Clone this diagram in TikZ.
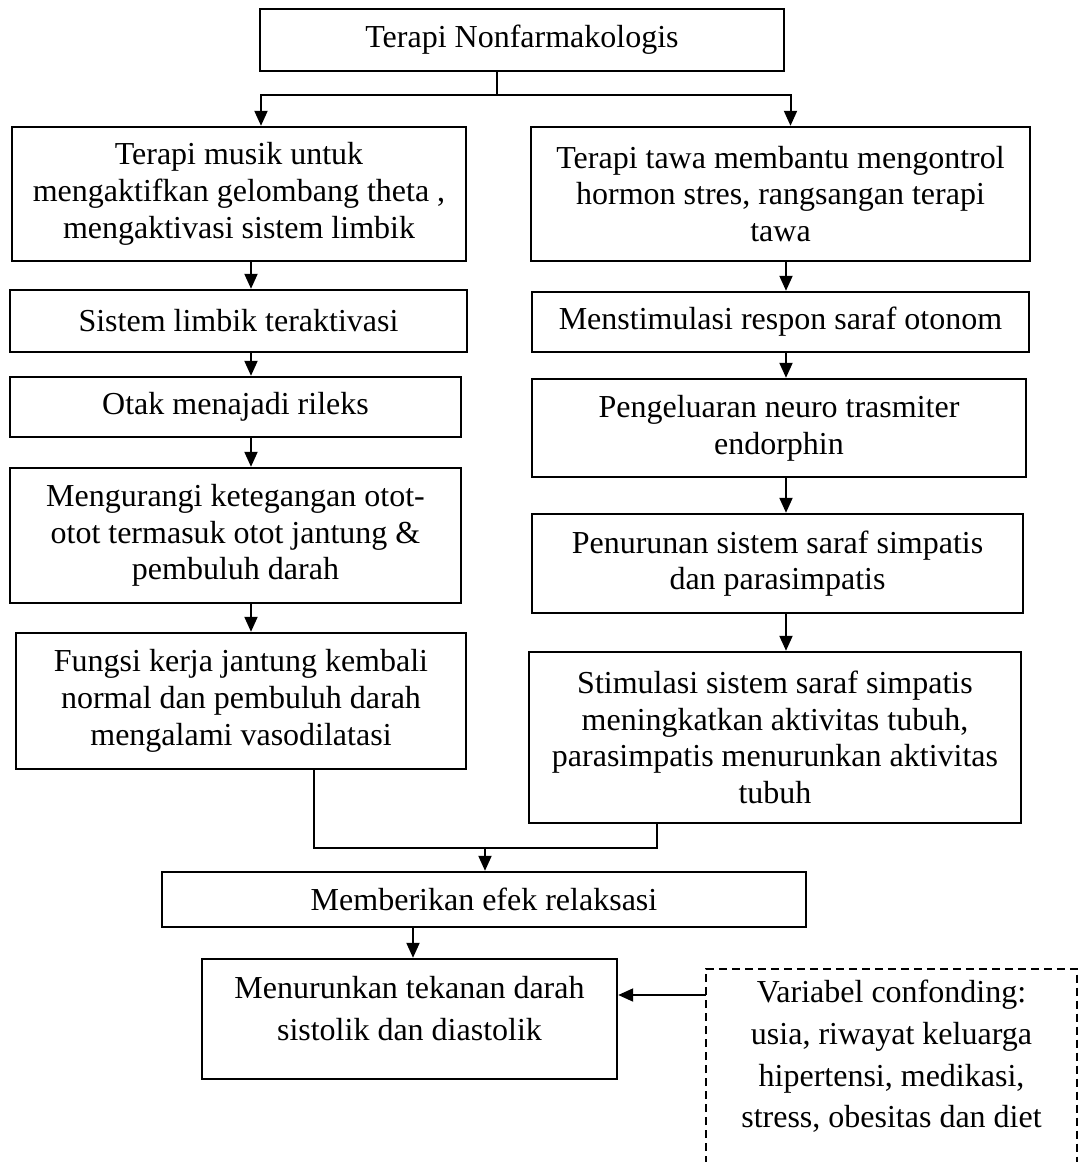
\documentclass[tikz,border=0pt]{standalone}
\usepackage{fontspec}
\setmainfont{Liberation Serif}
\usetikzlibrary{arrows.meta}

\begin{document}
\begin{tikzpicture}[x=1pt, y=-1pt,
  kotak/.style={draw, line width=2.4pt, align=center, inner sep=0pt, font=\fontsize{32}{36.7}\selectfont},
  kotakb/.style={kotak, font=\fontsize{32}{41.7}\selectfont},
  panah/.style={-{Triangle[length=15pt,width=13pt]}, line width=2pt},
  garis/.style={line width=2pt}]
        \useasboundingbox (0,0) rectangle (1078,1162);
        \clip (0,0) rectangle (1078,1162);

        \node[kotak, minimum width=524pt, minimum height=62pt] (terapi) at (522,40) {Terapi Nonfarmakologis};

        \node[kotak, minimum width=454pt, minimum height=134pt] (musik) at (239,194) {Terapi musik untuk\\ mengaktifkan gelombang theta ,\\ mengaktivasi sistem limbik};
        \node[kotak, minimum width=457pt, minimum height=62pt] (limbik) at (238.5,321) {Sistem limbik teraktivasi};
        \node[kotak, minimum width=451pt, minimum height=60pt] (rileks) at (235.5,407) {Otak menajadi rileks};
        \node[kotak, minimum width=451pt, minimum height=135pt] (otot) at (235.5,535.5) {Mengurangi ketegangan otot-\\ otot termasuk otot jantung \&\\ pembuluh darah};
        \node[kotak, minimum width=450pt, minimum height=136pt] (jantung) at (241,701) {Fungsi kerja jantung kembali\\ normal dan pembuluh darah\\ mengalami vasodilatasi};

        \node[kotak, minimum width=499pt, minimum height=134pt] (tawa) at (780.5,194) {Terapi tawa membantu mengontrol\\ hormon stres, rangsangan terapi\\ tawa};
        \node[kotak, minimum width=497pt, minimum height=60pt] (otonom) at (780.5,322) {Menstimulasi respon saraf otonom};
        \node[kotak, minimum width=494pt, minimum height=98pt] (endorfin) at (779,428) {Pengeluaran neuro trasmiter\\ endorphin};
        \node[kotak, minimum width=491pt, minimum height=99pt] (simpatis) at (777.5,563.5) {Penurunan sistem saraf simpatis\\ dan parasimpatis};
        \node[kotak, minimum width=492pt, minimum height=171pt] (aktivitas) at (775,737.5) {Stimulasi sistem saraf simpatis\\ meningkatkan aktivitas tubuh,\\ parasimpatis menurunkan aktivitas\\ tubuh};

        \node[kotak, minimum width=644pt, minimum height=55pt] (efek) at (484,899.5) {Memberikan efek relaksasi};
        \node[kotakb, minimum width=415pt, minimum height=120pt] (tekanan) at (409.5,1019) {Menurunkan tekanan darah\\ sistolik dan diastolik\\[-20pt]\mbox{}};
        \node[kotakb, draw=none, minimum width=369pt, anchor=north] (confounding) at (891.5,979) {Variabel confonding:\\ usia, riwayat keluarga\\ hipertensi, medikasi,\\ stress, obesitas dan diet};
        \draw[garis, dash pattern=on 8pt off 5pt] ([yshift=-250pt]confounding.north west) -- ([yshift=10pt]confounding.north west) -- ([yshift=10pt]confounding.north east) -- ++(0,250);

        \coordinate (cabang) at (497,95);
        \draw[garis] (terapi.south -| cabang) -- (cabang);
        \draw[panah] (cabang) -| ([xshift=22pt]musik.north);
        \draw[panah] (cabang) -| ([xshift=10pt]tawa.north);

        \coordinate (kiri) at (251,0);
        \coordinate (kanan) at (786,0);
        \foreach \a/\b in {musik/limbik, limbik/rileks, rileks/otot, otot/jantung}
          \draw[panah] (\a.south -| kiri) -- (\b.north -| kiri);
        \foreach \a/\b in {tawa/otonom, otonom/endorfin, endorfin/simpatis, simpatis/aktivitas}
          \draw[panah] (\a.south -| kanan) -- (\b.north -| kanan);

        \coordinate (gabung) at (485,848);
        \draw[garis] ([xshift=73pt]jantung.south) |- (gabung) -| ([xshift=-118pt]aktivitas.south);
        \draw[panah] (gabung) -- (efek.north -| gabung);
        \draw[panah] ([xshift=3.5pt]efek.south -| tekanan.north) -- ([xshift=3.5pt]tekanan.north);
        \draw[panah] ([yshift=-16pt]confounding.north west) -- ([yshift=-16pt]confounding.north west -| tekanan.east);
      \end{tikzpicture}
\end{document}
